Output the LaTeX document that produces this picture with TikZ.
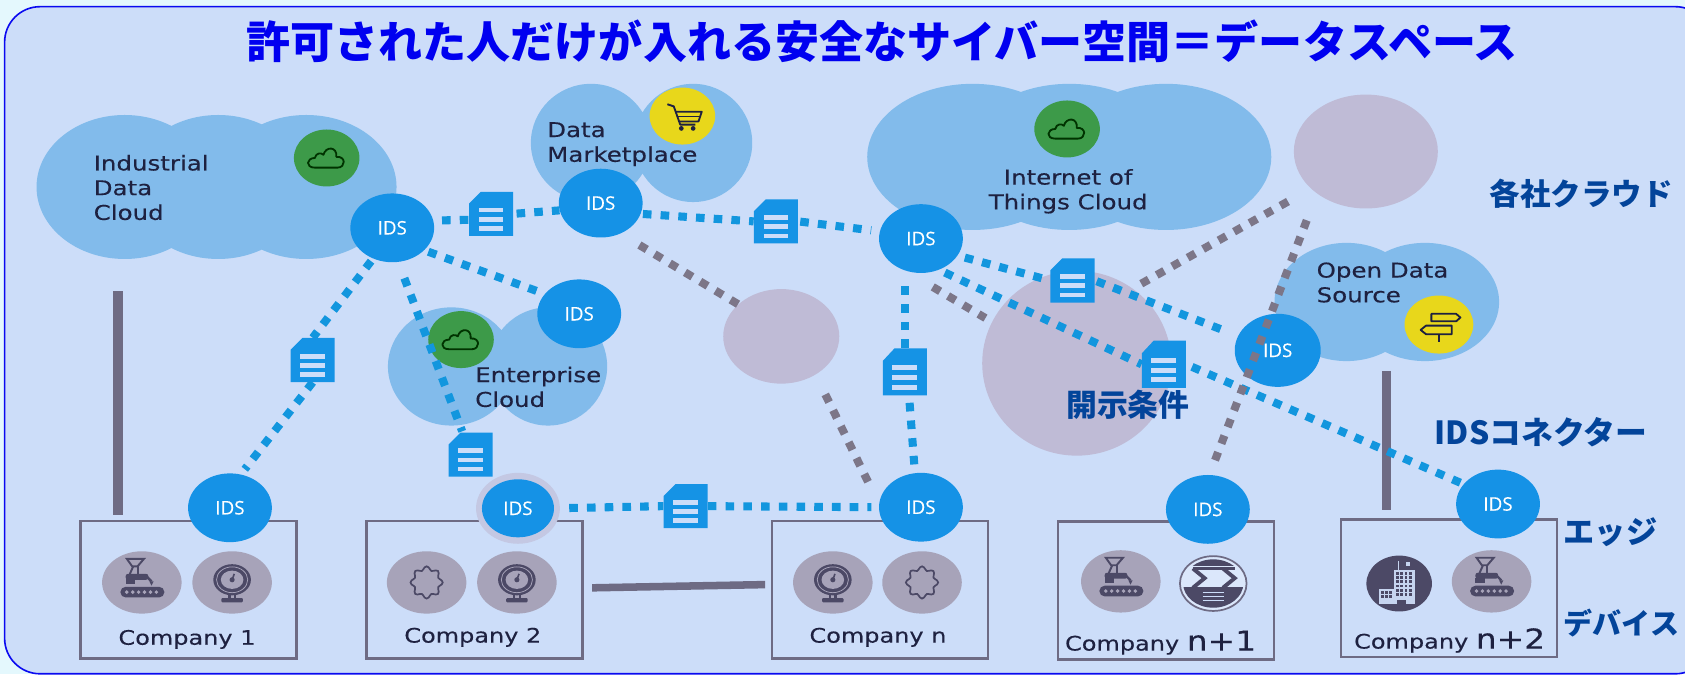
\documentclass[tikz,border=0pt]{standalone}
\usepackage{fontspec}
\usetikzlibrary{shapes.geometric,calc}
\setmainfont{DejaVu Sans}
\newfontfamily\labfont{DejaVu Sans}[FakeStretch=1.2,FakeBold=0.25]
\newfontfamily\idsfont{Open Sans}[FakeBold=0.3]
\newfontfamily\jpfont{Noto Sans CJK JP}
\definecolor{outerbg}{HTML}{E4F8FD}
\definecolor{framefill}{HTML}{CCDDF9}
\definecolor{framedraw}{HTML}{0A0AF0}
\definecolor{cloudblue}{HTML}{82BBEB}
\definecolor{idsblue}{HTML}{1592E6}
\definecolor{connblue}{HTML}{1296DE}
\definecolor{lilac}{HTML}{BFBBD6}
\definecolor{graydot}{HTML}{7C7688}
\definecolor{graysol}{HTML}{6E6B84}
\definecolor{devgray}{HTML}{A7A3B9}
\definecolor{devdark}{HTML}{4C4966}
\definecolor{inkdark}{HTML}{1E2140}
\definecolor{jpblue}{HTML}{03449A}
\definecolor{greenc}{HTML}{3D9A49}
\definecolor{yellowc}{HTML}{E8D71B}
\pgfdeclarelayer{back}
\pgfdeclarelayer{conn}
\pgfdeclarelayer{top}
\pgfsetlayers{back,conn,main,top}
\tikzset{
  idsnode/.style={ellipse,fill=idsblue,text=white,inner sep=0pt,minimum width=78pt,minimum height=64pt,font=\idsfont\fontsize{17.5}{19}\selectfont},
  docnode/.style={rectangle,inner sep=0pt,minimum width=41pt,minimum height=41pt},
  docicon/.pic={
    \fill[idsblue!85!connblue] (-20.5,-9.5) -- (-9.5,-20.5) -- (20.5,-20.5) -- (20.5,20.5) -- (-20.5,20.5) -- cycle;
    \foreach \yy in {-3.5,5,13.5}{\fill[framefill] (-11.5,{\yy-2.2}) rectangle (11.5,{\yy+2.2});}
  },
  blueconn/.style={draw=connblue,line width=7.5pt,dash pattern=on 8pt off 8.5pt},
  grayconn/.style={draw=graydot,line width=7.5pt,dash pattern=on 8pt off 8.5pt},
  graysolid/.style={draw=graysol,line width=8.8pt},
  boxnode/.style={rectangle,draw=graysol,line width=2.4pt,minimum width=201pt,minimum height=128pt,inner sep=0pt},
  complabel/.style={font=\labfont\fontsize{18.6}{20}\selectfont,text=inkdark,inner sep=0pt},
  cloudlabel/.style={font=\labfont\fontsize{19}{23}\selectfont,text=inkdark,inner sep=0pt,align=left},
  sidelabel/.style={font=\jpfont\bfseries\fontsize{28.4}{30}\selectfont,text=jpblue,inner sep=0pt},
  devcircle/.style={ellipse,fill=devgray,inner sep=0pt,minimum width=74pt,minimum height=58pt},
  badge/.style={ellipse,inner sep=0pt,minimum width=61pt,minimum height=53pt},
  lilacnode/.style={ellipse,fill=lilac,inner sep=0pt},
  robot/.pic={
    \fill[devdark,rounded corners=5pt] (-20,4) rectangle (21,14);
    \foreach \dd in {-14,-8.5,-3,2.5,8,13.5}{\fill[devgray] (\dd,9) circle (1.8);}
    \draw[devdark,line width=1.8pt] (-14,-22) -- (2,-22) -- (-4,-15) -- (-9,-15) -- cycle;
    \draw[devdark,line width=1.8pt] (-8,-15) -- (-12,-6);
    \draw[devdark,line width=1.8pt] (-4,-15) -- (-4,-7);
    \fill[devdark,rounded corners=2pt] (-15,-8) rectangle (6,-2.5);
    \draw[devdark,line width=2.2pt] (5,-5) -- (9,-1);
    \fill[devdark] (7,-1) -- (11,-1) -- (9,3) -- cycle;
    \fill[devdark] (-15,-3) rectangle (-6,1.5);
  },
  gauge/.pic={
    \fill[devdark] (0,-2.5) ellipse [x radius=17.5pt,y radius=14.5pt];
    \draw[devgray,line width=.7pt] (0,-2.5) ellipse [x radius=14.5pt,y radius=12pt];
    \fill[devgray] (0,-2.5) ellipse [x radius=10.5pt,y radius=8.5pt];
    \draw[devdark,line width=1.5pt] (0,-2.5) -- (2,-8);
    \fill[devdark] (0,-2.5) circle (2.4);
    \fill[devdark] (-4,11) rectangle (-1.5,15);
    \fill[devdark] (1.5,11) rectangle (4,15);
    \fill[devdark,rounded corners=1pt] (-10,14.5) rectangle (10,18.5);
  },
  gearicon/.pic={
    \draw[devdark,line width=1.6pt] plot[domain=0:352.5,samples=48,smooth cycle] ({(13.3+1.7*cos(8*\x))*cos(\x)},{(13.3+1.7*cos(8*\x))*sin(\x)});
  },
  ringicon/.pic={
    \draw[graysol,line width=1.6pt,fill=framefill!70!white] (0,0) ellipse [x radius=31pt,y radius=25.5pt];
    \begin{scope}
      \clip (0,0) ellipse [x radius=28pt,y radius=22.5pt];
      \fill[devdark] (-30,3) rectangle (30,30);
      \fill[devdark] (-30,-30) rectangle (30,-16);
    \end{scope}
    \draw[devdark,line width=3.6pt] (-19,-14) -- (-8,-5) -- (-19,4);
    \draw[devdark,line width=3.6pt] (9,-14) -- (20,-5) -- (9,4);
    \draw[devdark,line width=2pt] (-19,-14) -- (20,-14);
    \foreach \yy in {8,12,16}{\draw[framefill,line width=1.1pt] (-10,\yy) -- (10,\yy);}
  },
  buildicon/.pic={
    \fill[devdark] (0,0) ellipse [x radius=30.5pt,y radius=26pt];
    \fill[framefill!85!devgray] (-5,-13) rectangle (15,19);
    \fill[framefill!85!devgray] (-19,5) rectangle (-4,19);
    \foreach \ix in {-3,1,5,9.5}{\foreach \iy in {-11,-7,-3,1,5,9}{\fill[devdark] (\ix,\iy) rectangle ++(2.6,2.6);}}
    \foreach \ix in {-17,-13,-9}{\foreach \iy in {7,11}{\fill[devdark] (\ix,\iy) rectangle ++(2.6,2.6);}}
    \fill[devdark] (-2,15) rectangle (6,20);
    \draw[framefill!85!devgray,line width=1pt] (-1,-13) -- (-1,-21);
    \fill[framefill!85!devgray] (6,-20) rectangle (10,-16);
  },
  cloudicon/.pic={
    \draw[black!80!green,line width=1.7pt,line join=round] (-11,9) .. controls (-20,9) and (-19,0) .. (-11,0) .. controls (-10,-5) and (-5,-5) .. (-3,-3) .. controls (-1,-11) and (10,-11) .. (9,-1) .. controls (18,-2) and (18,9) .. (10,9) -- cycle;
  },
  carticon/.pic={
    \draw[inkdark,line width=1.7pt,line join=round] (-14,-11) -- (-8,-9) -- (-2,8) -- (12,8);
    \draw[inkdark,line width=1.7pt,line join=round] (-6,-4) -- (18,-4) -- (15,5) -- (-3,5);
    \draw[inkdark,line width=1.2pt] (-5,.5) -- (16,.5);
    \fill[inkdark] (-1,11.5) circle (2.2);
    \fill[inkdark] (10,11.5) circle (2.2);
  },
  signicon/.pic={
    \draw[inkdark,line width=1.7pt,line join=round] (-7,-10) -- (16,-10) -- (20,-6.5) -- (16,-3) -- (-7,-3) -- cycle;
    \draw[inkdark,line width=1.7pt,line join=round] (12,1) -- (-12,1) -- (-17,5) -- (-12,9) -- (12,9) -- cycle;
    \draw[inkdark,line width=1.7pt] (0,9) -- (0,16);
  },
}
\begin{document}
\begin{tikzpicture}[x=1pt,y=-1pt]
\useasboundingbox (0,0) rectangle (1568,627.2);
% ---- background and frame
\begin{pgfonlayer}{back}
  \fill[outerbg] (0,0) rectangle (1568,627.2);
  \begin{scope}
    \clip (0,0) rectangle (1568,627.2);
    \draw[framedraw,line width=1.5pt,fill=framefill,rounded corners=33pt] (4.3,6.2) rectangle (1592,627);
  \end{scope}
  % clouds
  \fill[cloudblue] (116,174) ellipse [x radius=82pt,y radius=67pt]
    (203,174) ellipse [x radius=82pt,y radius=67pt]
    (285,174) ellipse [x radius=84pt,y radius=67pt];
  \fill[cloudblue] (550,133) ellipse [x radius=56pt,y radius=55pt]
    (645,133) ellipse [x radius=55pt,y radius=55pt];
  \fill[cloudblue] (905,146) ellipse [x radius=98pt,y radius=68pt]
    (995,146) ellipse [x radius=98pt,y radius=68pt]
    (1085,146) ellipse [x radius=98pt,y radius=68pt];
  \fill[cloudblue] (1253,281) ellipse [x radius=67pt,y radius=55pt]
    (1326,281) ellipse [x radius=69pt,y radius=55pt];
  \fill[cloudblue] (420,341) ellipse [x radius=59pt,y radius=55pt]
    (510,341) ellipse [x radius=55pt,y radius=55pt];
  % pale circles
  \node[lilacnode,minimum width=108pt,minimum height=88pt] (pale1) at (727,313) {};
  \node[lilacnode,minimum width=176pt,minimum height=172pt] (pale2) at (1002,338) {};
  \node[lilacnode,minimum width=134pt,minimum height=106pt] (pale3) at (1271,141) {};
  % badges
  \node[badge,fill=greenc] (bgIndustrial) at (304,147) {};
  \node[badge,fill=greenc] (bgEnterprise) at (429,316) {};
  \node[badge,fill=greenc] (bgThings) at (993,120) {};
  \node[badge,fill=yellowc] (bgMarket) at (635,108) {};
  \node[badge,fill=yellowc,minimum width=64pt,minimum height=54pt] (bgOpen) at (1339,302) {};
  \pic at (bgIndustrial) {cloudicon};
  \pic at (bgEnterprise) {cloudicon};
  \pic at (bgThings) {cloudicon};
  \pic at (bgMarket) {carticon};
  \pic at (bgOpen) {signicon};
\end{pgfonlayer}
% ---- company boxes
\node[boxnode] (box1) at (175.5,549) {};
\node[boxnode] (box2) at (441.5,549) {};
\node[boxnode] (box3) at (819,549) {};
\node[boxnode] (box4) at (1085,549.5) {};
\node[boxnode] (box5) at (1348.5,547.5) {};
% ---- device circles
\node[devcircle] (d11) at (132,542) {}; \pic at (d11) {robot};
\node[devcircle] (d12) at (216,542) {}; \pic at (d12) {gauge};
\node[devcircle] (d21) at (397,542) {}; \pic at (d21) {gearicon};
\node[devcircle] (d22) at (481,542) {}; \pic at (d22) {gauge};
\node[devcircle] (d31) at (775,542) {}; \pic at (d31) {gauge};
\node[devcircle] (d32) at (858,542) {}; \pic at (d32) {gearicon};
\node[devcircle] (d41) at (1043,541) {}; \pic at (d41) {robot};
\coordinate (d42) at (1129,543); \pic at (d42) {ringicon};
\coordinate (d51) at (1302,543); \pic at (d51) {buildicon};
\node[devcircle] (d52) at (1388,541) {}; \pic at (d52) {robot};
% ---- company labels
\node[complabel] (c1) at (174,595) {Company 1};
\node[complabel] (c2) at (440,593) {Company 2};
\node[complabel] (c3) at (817,593) {Company n};
\node[complabel] (c4) at (1080,598) {Company {\fontsize{25.5}{25}\selectfont n+1}};
\node[complabel] (c5) at (1349,596) {Company {\fontsize{25.5}{25}\selectfont n+2}};
% ---- IDS connectors
\node[idsnode] (ids1) at (365,212) {IDS};
\node[idsnode] (ids2) at (559,189) {IDS};
\node[idsnode] (ids3) at (857,222) {IDS};
\node[idsnode] (ids4) at (539,292) {IDS};
\node[idsnode,minimum width=80pt,minimum height=68pt] (ids5) at (1189,326) {\raisebox{-3pt}{IDS}};
\node[idsnode] (ids6) at (214,472.5) {IDS};
\node[ellipse,fill=lilac!62!framefill,inner sep=0pt,minimum width=78pt,minimum height=66pt] (halo) at (482,473) {};
\node[idsnode,minimum width=67pt,minimum height=54pt] (ids7) at (482,473) {IDS};
\node[idsnode] (ids8) at (857,472) {IDS};
\node[idsnode] (ids9) at (1124,474) {IDS};
\node[idsnode] (ids10) at (1394,469) {IDS};
% ---- documents
\node[docnode] (doc1) at (457,199) {}; \pic at (doc1) {docicon};
\node[docnode] (doc2) at (722,206) {}; \pic at (doc2) {docicon};
\node[docnode] (doc3) at (291,335) {}; \pic at (doc3) {docicon};
\node[docnode] (doc4) at (438,423) {}; \pic at (doc4) {docicon};
\node[docnode] (doc5) at (638,471) {}; \pic at (doc5) {docicon};
\node[docnode,minimum height=44pt] (doc6) at (842,346) {}; \pic[yscale=1.07] at (doc6) {docicon};
\node[docnode] (doc7) at (998,261) {}; \pic at (doc7) {docicon};
\node[docnode,minimum height=44pt] (doc8) at (1083,339) {}; \pic[yscale=1.07] at (doc8) {docicon};
% ---- cloud labels
\node[cloudlabel,anchor=north west] (tIndustrial) at (87,144) {Industrial\\Data\\Cloud};
\node[cloudlabel,anchor=north west] (tMarket) at (509,113.5) {Data\\Marketplace};
\node[cloudlabel,align=center] (tThings) at (994,178) {Internet of\\Things Cloud};
\node[cloudlabel,anchor=north west] (tEnterprise) at (442,341) {Enterprise\\Cloud};
\node[cloudlabel,anchor=north west] (tOpen) at (1225,244) {Open Data\\Source};
% ---- solid grey links
\coordinate (s1) at (110,271);
\coordinate (s2a) at (551,547);
\coordinate (s2b) at (712,544);
\coordinate (s3) at (1290,345);
\begin{pgfonlayer}{back}
  \draw[graysolid,shorten >=5pt] (s1) -- (s1 |- box1.north);
  \draw[graysolid,line width=7pt] (s2a) -- (s2b);
  \draw[graysolid,shorten >=8pt] (s3) -- (s3 |- box5.north);
\end{pgfonlayer}
% ---- blue dotted links
\begin{pgfonlayer}{conn}
  \draw[blueconn,shorten <=8pt] (ids1.10) -- (doc1.-165);
  \draw[blueconn,shorten <=3pt] (doc1.east) -- (ids2.-170);
  \draw[blueconn,shorten <=2pt] (ids2.-15) -- (doc2.west);
  \draw[blueconn,shorten <=2pt,shorten >=8pt] (doc2.east) -- (ids3.170);
  \draw[blueconn,shorten <=4pt,shorten >=3pt] (ids1.-35) -- (ids4.150);
  \draw[blueconn,shorten <=3pt] (ids1.-122) -- (doc3.north);
  \draw[blueconn,shorten >=6pt] (doc3.south) -- (ids6.72);
  \draw[blueconn,shorten <=16pt,shorten >=1pt] (ids1.-80) -- (doc4.110);
  \draw[blueconn,shorten <=14pt] (ids7.east) -- (doc5.west);
  \draw[blueconn,shorten >=7pt] (doc5.east) -- (ids8.west);
  \draw[blueconn,shorten <=8pt] (ids8.100) -- (doc6.-80);
  \draw[blueconn,shorten >=8pt] (doc6.north) -- (doc6.north |- ids3.south);
  \draw[blueconn,shorten <=7pt] (ids3.-25) -- (doc7.west);
  \draw[blueconn,shorten <=2pt,shorten >=10pt] (doc7.east) -- (ids5.160);
  \draw[blueconn,shorten <=6pt] (ids3.-60) -- (doc8.west);
  \draw[blueconn,shorten <=6pt,shorten >=2pt] (doc8.east) -- (ids10.150);
\end{pgfonlayer}
% ---- grey dotted links
\coordinate (g1a) at (595,228);
\coordinate (g1b) at (690,285);
\coordinate (g2a) at (768,367);
\coordinate (g2b) at (811,455);
\coordinate (g3a) at (868,267);
\coordinate (g3b) at (917,296);
\coordinate (g4a) at (1062,264);
\coordinate (g4b) at (1203,185);
\coordinate (g5a) at (1216,205);
\coordinate (g5b) at (1130,430);
\begin{pgfonlayer}{top}
  \draw[grayconn] (g1a) -- (g1b);
  \draw[grayconn] (g2a) -- (g2b);
  \draw[grayconn] (g3a) -- (g3b);
  \draw[grayconn] (g4a) -- (g4b);
  \draw[grayconn] (g5a) -- (g5b);
  % ---- headings
  \node[font=\jpfont\bfseries\fontsize{41}{44}\selectfont,text=blue!94!black,inner sep=0pt] (title) at (821,38) {許可された人だけが入れる安全なサイバー空間＝データスペース};
  \node[sidelabel,anchor=west] (l1) at (1386,180) {各社クラウド};
  \node[sidelabel,anchor=west,font=\jpfont\bfseries\fontsize{29.6}{30}\selectfont] (l2) at (1335,402) {IDSコネクター};
  \node[sidelabel,anchor=west,font=\jpfont\bfseries\fontsize{29}{30}\selectfont] (l3) at (1455,495) {エッジ};
  \node[sidelabel,anchor=west,font=\jpfont\bfseries\fontsize{27}{30}\selectfont] (l4) at (1455,580) {デバイス};
  \node[sidelabel,anchor=west,font=\jpfont\bfseries\fontsize{28.7}{30}\selectfont] (l5) at (992,377) {開示条件};
\end{pgfonlayer}
\end{tikzpicture}
\end{document}
